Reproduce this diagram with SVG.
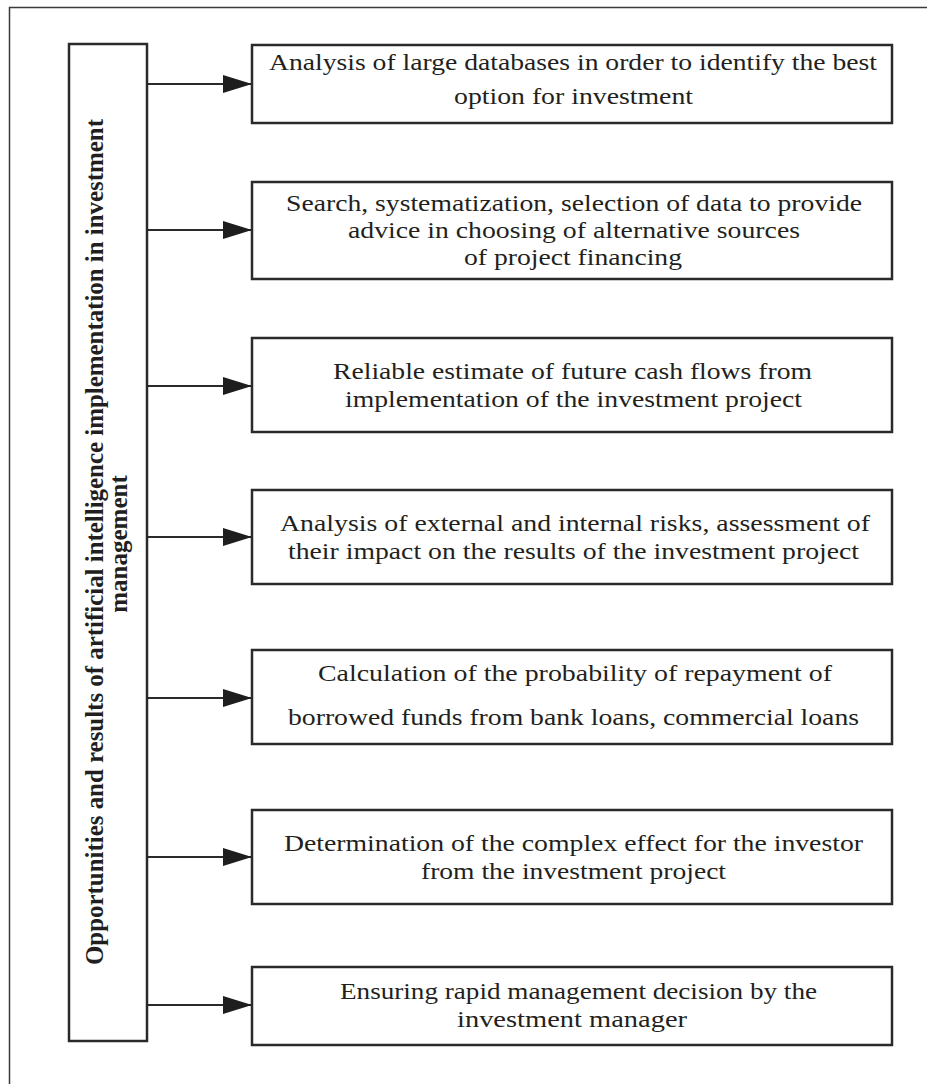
<svg xmlns="http://www.w3.org/2000/svg" width="938" height="1084" viewBox="0 0 938 1084">
<style>
.frame{fill:none;stroke:#3a3a3a;stroke-width:1.5}
.box{fill:#fff;stroke:#2a2a2a;stroke-width:2.5}
.conn{fill:none;stroke:#2a2a2a;stroke-width:2}
.t{font-family:"Liberation Serif","Times New Roman",serif;font-size:24px;fill:#231f20}
.vt{font-family:"Liberation Serif","Times New Roman",serif;font-size:25px;font-weight:bold;fill:#231f20}
</style>
<defs>
<marker id="ah" markerUnits="userSpaceOnUse" markerWidth="30" markerHeight="18" refX="29" refY="9" orient="auto">
<path d="M0,0 L29,9 L0,18 Z" fill="#1e1e1e"/>
</marker>
</defs>
<rect width="938" height="1084" fill="#fff"/>
<path class="frame" d="M9.5,1084 V7.5 H927"/>
<g id="main">
<rect class="box" x="69" y="44" width="78" height="997"/>
<text class="vt" transform="translate(103,965) rotate(-90)" x="0" y="0" textLength="846" lengthAdjust="spacingAndGlyphs">Opportunities and results of artificial intelligence implementation in investment</text>
<text class="vt" transform="translate(127,544) rotate(-90)" x="0" y="0" text-anchor="middle">management</text>
</g>
<g id="connectors">
<line class="conn" x1="147" y1="84" x2="252" y2="84" marker-end="url(#ah)"/>
<line class="conn" x1="147" y1="230" x2="252" y2="230" marker-end="url(#ah)"/>
<line class="conn" x1="147" y1="386" x2="252" y2="386" marker-end="url(#ah)"/>
<line class="conn" x1="147" y1="537" x2="252" y2="537" marker-end="url(#ah)"/>
<line class="conn" x1="147" y1="698" x2="252" y2="698" marker-end="url(#ah)"/>
<line class="conn" x1="147" y1="857" x2="252" y2="857" marker-end="url(#ah)"/>
<line class="conn" x1="147" y1="1005" x2="252" y2="1005" marker-end="url(#ah)"/>
</g>
<g id="n1">
<rect class="box" x="252" y="45" width="640" height="78"/>
<text class="t" x="269" y="70" textLength="608" lengthAdjust="spacingAndGlyphs">Analysis of large databases in order to identify the best</text>
<text class="t" x="454" y="104" textLength="239" lengthAdjust="spacingAndGlyphs">option for investment</text>
</g>
<g id="n2">
<rect class="box" x="252" y="182" width="640" height="97"/>
<text class="t" x="286" y="211" textLength="576" lengthAdjust="spacingAndGlyphs">Search, systematization, selection of data to provide</text>
<text class="t" x="348" y="238" textLength="452" lengthAdjust="spacingAndGlyphs">advice in choosing of alternative sources</text>
<text class="t" x="464" y="265" textLength="218" lengthAdjust="spacingAndGlyphs">of project financing</text>
</g>
<g id="n3">
<rect class="box" x="252" y="338" width="640" height="94"/>
<text class="t" x="333" y="379" textLength="479" lengthAdjust="spacingAndGlyphs">Reliable estimate of future cash flows from</text>
<text class="t" x="345" y="407" textLength="457" lengthAdjust="spacingAndGlyphs">implementation of the investment project</text>
</g>
<g id="n4">
<rect class="box" x="252" y="490" width="640" height="94"/>
<text class="t" x="280" y="531" textLength="590" lengthAdjust="spacingAndGlyphs">Analysis of external and internal risks, assessment of</text>
<text class="t" x="288" y="559" textLength="571" lengthAdjust="spacingAndGlyphs">their impact on the results of the investment project</text>
</g>
<g id="n5">
<rect class="box" x="252" y="650" width="640" height="94"/>
<text class="t" x="318" y="681" textLength="514" lengthAdjust="spacingAndGlyphs">Calculation of the probability of repayment of</text>
<text class="t" x="288" y="725" textLength="571" lengthAdjust="spacingAndGlyphs">borrowed funds from bank loans, commercial loans</text>
</g>
<g id="n6">
<rect class="box" x="252" y="810" width="640" height="94"/>
<text class="t" x="284" y="851" textLength="579" lengthAdjust="spacingAndGlyphs">Determination of the complex effect for the investor</text>
<text class="t" x="421" y="879" textLength="305" lengthAdjust="spacingAndGlyphs">from the investment project</text>
</g>
<g id="n7">
<rect class="box" x="252" y="967" width="640" height="78"/>
<text class="t" x="340" y="999" textLength="477" lengthAdjust="spacingAndGlyphs">Ensuring rapid management decision by the</text>
<text class="t" x="457" y="1027" textLength="230" lengthAdjust="spacingAndGlyphs">investment manager</text>
</g>
</svg>
